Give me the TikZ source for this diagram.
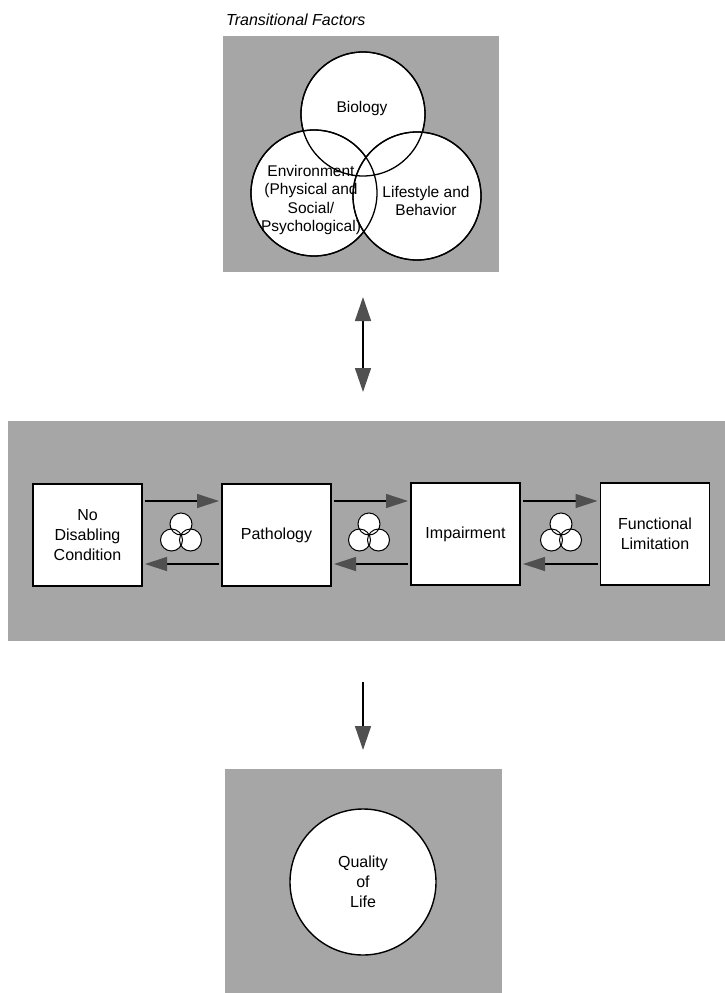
\documentclass[tikz,border=0pt]{standalone}
\usepackage{fontspec}
\setmainfont{Liberation Sans}
\usetikzlibrary{arrows.meta}
\definecolor{panelgray}{RGB}{166,166,166}
\definecolor{headgray}{RGB}{80,80,80}
\begin{document}
\begin{tikzpicture}[x=1pt,y=-1pt,
  panel/.style={fill=panelgray, draw=none, inner sep=0pt, outer sep=0pt},
  stagebox/.style={draw=black, line width=1.6pt, fill=white, inner sep=0pt, outer sep=0pt,
    minimum width=109pt, minimum height=102pt, align=center,
    font=\fontsize{16}{20}\selectfont},
  vcirc/.style={circle, draw=black, line width=1.3pt, fill=white, inner sep=0pt, outer sep=0pt},
  venntext/.style={align=center, font=\fontsize{15.5}{18.5}\selectfont, inner sep=0pt},
  head/.tip={Triangle[length=22pt,width=14pt,color=headgray,fill=headgray]},
  bighead/.tip={Triangle[length=24pt,width=16pt,color=headgray,fill=headgray]},
  link/.style={line width=1.2pt, -head, shorten <=3pt, shorten >=3pt},
  vlink/.style={line width=1.5pt},
  triad/.pic={
    \foreach \p in {(0,-8),(-9.5,8),(9.5,8)} \fill[white] \p circle[radius=11pt];
    \foreach \p in {(0,-8),(-9.5,8),(9.5,8)} \draw[line width=1pt] \p circle[radius=11pt];
  }]
\useasboundingbox (0,0) rectangle (725,993);

% ---------- top panel: transitional factors ----------
\node[anchor=west, font=\itshape\fontsize{16}{18}\selectfont, inner sep=0pt] (title) at (226,20) {Transitional Factors};
\node[panel, minimum width=276pt, minimum height=236pt] (topbox) at (361,154) {};

\node[vcirc, minimum size=124pt] (bio) at (363,114) {};
\node[vcirc, minimum size=126pt] (env) at (314,193) {};
\node[vcirc, minimum size=128pt] (life) at (417,196) {};
\draw[line width=1.3pt] (bio.center) circle[radius=62pt];
\draw[line width=1.3pt] (env.center) circle[radius=63pt];
\draw[line width=1.3pt] (life.center) circle[radius=64pt];

\node[venntext] (biot) at (362,108) {Biology};
\node[venntext] (envt) at (311,200) {Environment\\(Physical and\\Social/\\Psychological)};
\node[venntext] (lifet) at (426,201) {Lifestyle and\\Behavior};

% ---------- middle band: stages ----------
\node[panel, minimum width=717pt, minimum height=220pt] (band) at (366.5,531) {};

\node[stagebox] (nodis) at (87.5,535) {No\\Disabling\\Condition};
\node[stagebox] (path) at (276.5,535) {Pathology};
\node[stagebox] (imp) at (465.5,534) {Impairment};
\node[stagebox] (func) at (655,534) {Functional\\Limitation};

\draw[link] ([yshift=34pt]nodis.east) -- ([yshift=34pt]path.west);
\draw[link] ([yshift=-29pt]path.west) -- ([yshift=-29pt]nodis.east);
\draw[link] ([yshift=34pt]path.east) -- ([yshift=33pt]imp.west);
\draw[link] ([yshift=-30pt]imp.west) -- ([yshift=-29pt]path.east);
\draw[link] ([yshift=33pt]imp.east) -- ([yshift=33pt]func.west);
\draw[link] ([yshift=-30pt]func.west) -- ([yshift=-30pt]imp.east);

\pic at (181,532) {triad};
\pic at (369,532) {triad};
\pic at (561,532) {triad};

% ---------- bottom panel: quality of life ----------
\node[panel, minimum width=277pt, minimum height=224pt] (qolbox) at (363.5,881) {};
\node[circle, draw=black, line width=1.4pt, fill=white, minimum size=146pt, inner sep=0pt,
      align=center, font=\fontsize{16}{20}\selectfont] (qol) at (363,882) {Quality\\of\\Life};

% ---------- vertical connectors ----------
\draw[vlink, bighead-bighead, shorten <=25pt, shorten >=29pt]
  ([xshift=2pt]topbox.south) -- ([xshift=-3.5pt]band.north);
\draw[vlink, -bighead, shorten <=41pt, shorten >=19pt]
  ([xshift=-3.5pt]band.south) -- ([xshift=-0.5pt]qolbox.north);
\end{tikzpicture}
\end{document}
